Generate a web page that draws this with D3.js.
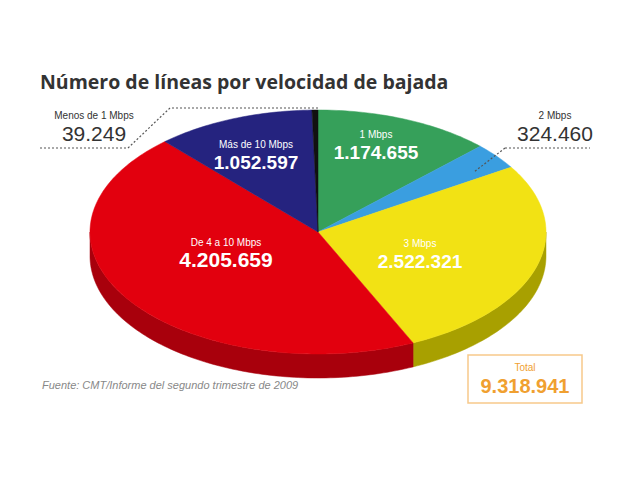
<!DOCTYPE html><html><head><meta charset="utf-8"><script src="https://cdn.jsdelivr.net/npm/d3@7"></script>
<style>body{margin:0;background:#fff}</style></head><body><svg id="c" width="640" height="479"></svg>
<script>
const categories=["1 Mbps","2 Mbps","3 Mbps","De 4 a 10 Mbps","Más de 10 Mbps","Menos de 1 Mbps"];
const values=[1174655,324460,2522321,4205659,1052597,39249];
const labels=["1.174.655","324.460","2.522.321","4.205.659","1.052.597","39.249"];
const colors=["#36a05a","#3a9ee0","#f2e214","#e2000e","#25237f","#111"];
const sides=["#257040","#2a70a0","#a8a000","#a8000c","#151550","#000"];
const svg=d3.select("#c");
const cx=318,cy=232,rx=228,ry=122,depth=24;
const pie=d3.pie().sort(null).value(d=>d)(values);
const P=(a,dy=0)=>[cx+rx*Math.sin(a),cy-ry*Math.cos(a)+dy];
function arcPts(a0,a1,dy){const n=Math.max(2,Math.ceil((a1-a0)/0.02));return d3.range(n+1).map(i=>P(a0+(a1-a0)*i/n,dy));}
// sides
pie.forEach((p,i)=>{
  const a0=Math.max(p.startAngle,Math.PI/2),a1=Math.min(p.endAngle,3*Math.PI/2);
  if(a1<=a0)return;
  const top=arcPts(a0,a1,0),bot=arcPts(a0,a1,depth).reverse();
  svg.append("path").attr("d",d3.line()(top.concat(bot))+"Z").attr("fill",sides[i]).attr("stroke",sides[i]).attr("stroke-width",0.5);
});
pie.forEach((p,i)=>{
  svg.append("path").attr("d",d3.line()([[cx,cy]].concat(arcPts(p.startAngle,p.endAngle,0)))+"Z")
   .attr("fill",colors[i]).attr("stroke",colors[i]).attr("stroke-width",0.5);
});
svg.append("text").attr("x",40).attr("y",89).text("Número de líneas por velocidad de bajada")
  .attr("font-family","Open Sans").attr("font-weight",700).attr("font-size",19.5).attr("fill","#333");
const F="Liberation Sans";
function inside(i,x,y,sz){
  svg.append("text").attr("x",x).attr("y",y).attr("text-anchor","middle").attr("font-family",F).attr("font-size",10).attr("fill","#fff").text(categories[i]);
  svg.append("text").attr("x",x).attr("y",y+21).attr("text-anchor","middle").attr("font-family",F).attr("font-weight",700).attr("font-size",sz).attr("fill","#fff").text(labels[i]);
}
inside(0,376,138,19);inside(4,256,148,19);inside(3,226,246,21);inside(2,420,247,19);
function outside(i,x,y,anchor){
  svg.append("text").attr("x",x).attr("y",y).attr("text-anchor",anchor).attr("font-family",F).attr("font-size",10).attr("fill","#333").text(categories[i]);
  svg.append("text").attr("x",x).attr("y",y+22).attr("text-anchor",anchor).attr("font-family",F).attr("font-size",21).attr("fill","#333").text(labels[i]);
}
outside(5,94,119,"middle");outside(1,555,119,"middle");
const dl=(pts)=>svg.append("path").attr("d",d3.line()(pts)).attr("fill","none").attr("stroke","#555").attr("stroke-width",1.2).attr("stroke-dasharray","2,2");
dl([[40,148],[128,148],[170,108],[318,108]]);
dl([[505,148],[590,148]]);dl([[505,148],[474,172]]);
svg.append("text").attr("x",42).attr("y",389).text("Fuente: CMT/Informe del segundo trimestre de 2009").attr("font-family",F).attr("font-style","italic").attr("font-size",11).attr("fill","#888");
svg.append("rect").attr("x",468).attr("y",355).attr("width",114).attr("height",48).attr("fill","#fff").attr("stroke","#f7c98a").attr("stroke-width",1.5);
svg.append("text").attr("x",525).attr("y",371).attr("text-anchor","middle").text("Total").attr("font-family",F).attr("font-size",10).attr("fill","#f0a030");
svg.append("text").attr("x",525).attr("y",393).attr("text-anchor","middle").text("9.318.941").attr("font-family",F).attr("font-weight",700).attr("font-size",20).attr("fill","#f0a030");
</script></body></html>
